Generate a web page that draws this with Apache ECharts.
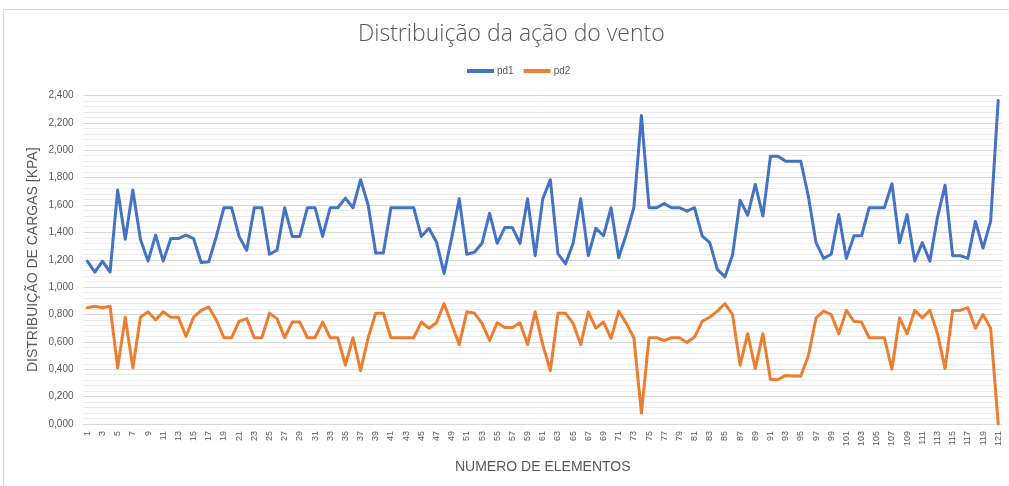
<!DOCTYPE html>
<html>
<head>
<meta charset="utf-8">
<script src="https://cdn.jsdelivr.net/npm/echarts@6/dist/echarts.min.js"></script>
<style>
  html, body { margin: 0; padding: 0; background: #ffffff; }
  #chart { width: 1009px; height: 486px; }
</style>
</head>
<body>
<div id="chart"></div>
<script>
// Element numbers 1..121
const categories = [];
for (let i = 1; i <= 121; i++) categories.push(String(i));

// Load per element [kPa]
const pd1 = [
  1.19, 1.11, 1.19, 1.11, 1.71, 1.35, 1.71, 1.35, 1.19, 1.38,
  1.19, 1.355, 1.355, 1.38, 1.355, 1.18, 1.185, 1.37, 1.58, 1.58,
  1.37, 1.27, 1.58, 1.58, 1.24, 1.27, 1.58, 1.37, 1.37, 1.58,
  1.58, 1.37, 1.58, 1.58, 1.65, 1.58, 1.785, 1.6, 1.25, 1.25,
  1.58, 1.58, 1.58, 1.58, 1.37, 1.43, 1.33, 1.10, 1.36, 1.645,
  1.24, 1.255, 1.32, 1.54, 1.32, 1.435, 1.435, 1.32, 1.645, 1.23,
  1.645, 1.785, 1.245, 1.17, 1.32, 1.645, 1.23, 1.43, 1.375, 1.58,
  1.215, 1.385, 1.58, 2.254, 1.58, 1.58, 1.61, 1.58, 1.58, 1.555,
  1.58, 1.375, 1.325, 1.13, 1.075, 1.235, 1.634, 1.525, 1.75, 1.52,
  1.957, 1.957, 1.92, 1.92, 1.92, 1.66, 1.325, 1.21, 1.24, 1.53,
  1.21, 1.375, 1.375, 1.58, 1.58, 1.58, 1.755, 1.325, 1.53, 1.19,
  1.325, 1.19, 1.51, 1.745, 1.23, 1.23, 1.21, 1.48, 1.285, 1.48,
  2.364
];
const pd2 = [
  0.85, 0.86, 0.85, 0.86, 0.41, 0.78, 0.41, 0.78, 0.82, 0.76,
  0.82, 0.78, 0.78, 0.64, 0.78, 0.83, 0.855, 0.76, 0.63, 0.63,
  0.75, 0.77, 0.63, 0.63, 0.81, 0.77, 0.63, 0.745, 0.745, 0.63,
  0.63, 0.745, 0.63, 0.63, 0.43, 0.63, 0.39, 0.63, 0.81, 0.81,
  0.63, 0.63, 0.63, 0.63, 0.745, 0.70, 0.74, 0.88, 0.73, 0.58,
  0.82, 0.81, 0.735, 0.61, 0.74, 0.705, 0.705, 0.74, 0.58, 0.82,
  0.58, 0.39, 0.81, 0.81, 0.735, 0.58, 0.82, 0.70, 0.745, 0.625,
  0.825, 0.735, 0.63, 0.08, 0.63, 0.63, 0.61, 0.63, 0.63, 0.595,
  0.635, 0.75, 0.78, 0.825, 0.88, 0.80, 0.43, 0.66, 0.405, 0.66,
  0.325, 0.325, 0.355, 0.35, 0.35, 0.50, 0.775, 0.825, 0.80, 0.66,
  0.83, 0.75, 0.745, 0.63, 0.63, 0.63, 0.40, 0.775, 0.66, 0.83,
  0.775, 0.83, 0.66, 0.405, 0.83, 0.83, 0.85, 0.70, 0.80, 0.70,
  0.0
];

const textColor = '#595959';
const baseFont = '"Liberation Sans", "DejaVu Sans", sans-serif';

const chart = echarts.init(document.getElementById('chart'), null, { renderer: 'canvas' });

chart.setOption({
  backgroundColor: '#ffffff',
  animation: false,
  graphic: [{
    type: 'rect',
    silent: true,
    shape: { x: 3.5, y: 9.5, width: 1010, height: 480 },
    style: { fill: 'none', stroke: '#d9d9d9', lineWidth: 1 }
  }],
  title: {
    text: 'Distribuição da ação do vento',
    left: 353,
    top: 18,
    textStyle: {
      fontFamily: '"Open Sans", sans-serif',
      fontWeight: 300,
      fontSize: 23,
      color: textColor
    }
  },
  legend: {
    top: 61,
    left: 462,
    itemWidth: 27,
    itemHeight: 4,
    itemGap: 10,
    icon: 'rect',
    textStyle: { fontFamily: baseFont, fontSize: 10, color: textColor, padding: [0, 0, 0, -2] },
    data: ['pd1', 'pd2']
  },
  grid: { left: 83.5, right: 7, top: 95.5, bottom: 62, containLabel: false },
  xAxis: {
    type: 'category',
    data: categories,
    boundaryGap: true,
    name: 'NUMERO DE ELEMENTOS',
    nameLocation: 'middle',
    nameGap: 36,
    nameMoveOverlap: false,
    nameTextStyle: { fontFamily: baseFont, fontSize: 14, color: textColor },
    axisLine: { lineStyle: { color: '#d9d9d9', width: 1 } },
    axisTick: { show: false },
    axisLabel: {
      interval: 1,
      rotate: 90,
      fontFamily: baseFont,
      fontSize: 9,
      color: textColor,
      margin: 7
    },
    splitLine: { show: false }
  },
  yAxis: {
    type: 'value',
    min: 0,
    max: 2.4,
    interval: 0.2,
    name: 'DISTRIBUIÇÃO DE CARGAS [KPA]',
    nameLocation: 'middle',
    nameGap: 43,
    nameMoveOverlap: false,
    nameTextStyle: { fontFamily: baseFont, fontSize: 14, color: textColor },
    axisLine: { show: false },
    axisTick: { show: false },
    axisLabel: {
      fontFamily: baseFont,
      fontSize: 10,
      color: textColor,
      margin: 10,
      formatter: v => v.toFixed(3).replace('.', ',')
    },
    splitLine: { show: true, lineStyle: { color: '#d9d9d9', width: 1 } },
    minorTick: { show: false, splitNumber: 5 },
    minorSplitLine: { show: true, lineStyle: { color: '#ebebeb', width: 1 } }
  },
  series: [
    {
      name: 'pd1',
      type: 'line',
      data: pd1,
      showSymbol: false,
      symbol: 'none',
      lineStyle: { color: '#4472C4', width: 3, join: 'round', cap: 'round' },
      itemStyle: { color: '#4472C4' }
    },
    {
      name: 'pd2',
      type: 'line',
      data: pd2,
      showSymbol: false,
      symbol: 'none',
      lineStyle: { color: '#ED7D31', width: 3, join: 'round', cap: 'round' },
      itemStyle: { color: '#ED7D31' }
    }
  ]
});
</script>
</body>
</html>
